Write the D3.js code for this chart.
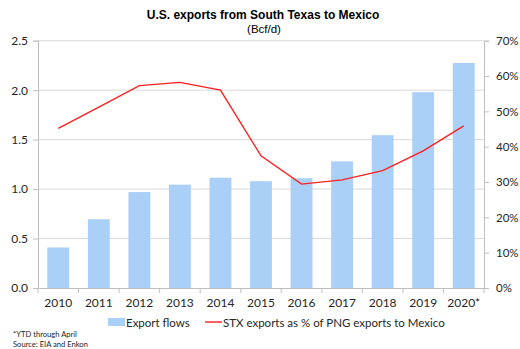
<!DOCTYPE html>
<html>
<head>
<meta charset="utf-8">
<script src="https://cdn.jsdelivr.net/npm/d3@7/dist/d3.min.js"></script>
<style>
  html, body { margin: 0; padding: 0; background: #fff; }
  svg { display: block; }
</style>
</head>
<body>
<svg id="chart" width="520" height="349"></svg>
<script>
// Years on the category axis
const years = ["2010", "2011", "2012", "2013", "2014", "2015", "2016", "2017", "2018", "2019", "2020*"];
// Pipeline export flows to Mexico from South Texas (Bcf/d)
const exportFlows = [0.41, 0.695, 0.97, 1.045, 1.115, 1.08, 1.11, 1.28, 1.545, 1.98, 2.275];
// South Texas share of US pipeline gas exports to Mexico (%)
const stxShare = [45.2, 51.2, 57.3, 58.2, 56.0, 37.4, 29.4, 30.6, 33.2, 38.8, 45.9];
// Axis tick values
const leftTicks = [0, 0.5, 1.0, 1.5, 2.0, 2.5];
const rightTicks = [0, 10, 20, 30, 40, 50, 60, 70];

const svg = d3.select("#chart");
const plot = { left: 38, right: 484, top: 40.7, bottom: 288 };
const labelFont = "Lato, 'Open Sans', sans-serif";

const x = d3.scaleBand().domain(years).range([plot.left, plot.right]).paddingInner(0.46).paddingOuter(0.23);
const yL = d3.scaleLinear().domain([0, 2.5]).range([plot.bottom, plot.top]);
const yR = d3.scaleLinear().domain([0, 70]).range([plot.bottom, plot.top]);

// Horizontal gridlines
svg.append("g").selectAll("line").data(leftTicks.filter(d => d > 0)).join("line")
  .attr("x1", plot.left).attr("x2", plot.right)
  .attr("y1", d => yL(d)).attr("y2", d => yL(d))
  .attr("stroke", "#d9d9d9").attr("stroke-width", 1);

// Bars
svg.append("g").selectAll("rect").data(exportFlows).join("rect")
  .attr("x", (d, i) => x(years[i]))
  .attr("y", d => yL(d))
  .attr("width", x.bandwidth())
  .attr("height", d => yL(0) - yL(d))
  .attr("fill", "#abd0f8");

// Share line
const line = d3.line()
  .x((d, i) => x(years[i]) + x.bandwidth() / 2)
  .y(d => yR(d));
svg.append("path").datum(stxShare)
  .attr("d", line)
  .attr("fill", "none")
  .attr("stroke", "#ff1f1f")
  .attr("stroke-width", 1.4);

// Left axis
const gL = svg.append("g").attr("transform", `translate(${plot.left},0)`)
  .call(d3.axisLeft(yL).tickValues(leftTicks).tickFormat(d3.format(".1f")).tickSize(5).tickPadding(5));
// Right axis
const gR = svg.append("g").attr("transform", `translate(${plot.right},0)`)
  .call(d3.axisRight(yR).tickValues(rightTicks).tickFormat(d => d + "%").tickSize(5).tickPadding(7));
// Bottom axis with ticks at category boundaries
const gB = svg.append("g").attr("transform", `translate(0,${plot.bottom})`)
  .call(d3.axisBottom(x).tickSize(0).tickPadding(10));
const step = x.step();
gB.selectAll("line.bound").data(d3.range(years.length + 1)).join("line")
  .attr("class", "bound")
  .attr("x1", i => plot.left + i * step).attr("x2", i => plot.left + i * step)
  .attr("y1", 0).attr("y2", 5)
  .attr("stroke", "#bfbfbf");

[gL, gR, gB].forEach(g => {
  g.select(".domain").attr("stroke", "#bfbfbf");
  g.selectAll(".tick line").attr("stroke", "#bfbfbf");
  g.selectAll("text").attr("fill", "#262626").style("font-family", labelFont).style("font-size", "12px");
});
gR.selectAll("text").style("font-size", "11.5px");

// Title
svg.append("text").attr("x", 263).attr("y", 19).attr("text-anchor", "middle")
  .style("font-family", "'Liberation Sans', Arial, sans-serif").style("font-weight", "bold").style("font-size", "12px")
  .attr("fill", "#000").text("U.S. exports from South Texas to Mexico");
svg.append("text").attr("x", 264).attr("y", 33).attr("text-anchor", "middle")
  .style("font-family", "'Liberation Sans', Arial, sans-serif").style("font-size", "11.5px")
  .attr("fill", "#000").text("(Bcf/d)");

// Legend
const lg = svg.append("g").style("font-family", labelFont).style("font-size", "11.5px").attr("fill", "#262626");
lg.append("rect").attr("x", 108).attr("y", 318).attr("width", 17).attr("height", 8).attr("fill", "#abd0f8");
lg.append("text").attr("x", 126).attr("y", 326.5).text("Export flows");
lg.append("line").attr("x1", 205).attr("x2", 222).attr("y1", 322).attr("y2", 322).attr("stroke", "#ff1f1f").attr("stroke-width", 1.4);
lg.append("text").attr("x", 223).attr("y", 326.5).text("STX exports as % of PNG exports to Mexico");

// Footnotes
const fn = svg.append("g").style("font-family", labelFont).style("font-size", "7.6px").attr("fill", "#262626");
fn.append("text").attr("x", 13).attr("y", 337).text("*YTD through April");
fn.append("text").attr("x", 13).attr("y", 347).text("Source:  EIA and Enkon");
</script>
</body>
</html>
